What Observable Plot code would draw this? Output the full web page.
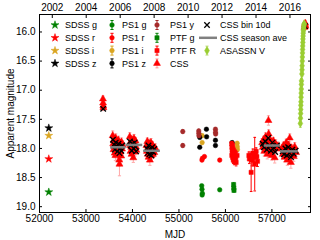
<!DOCTYPE html>
<html><head><meta charset="utf-8">
<script src="https://cdn.jsdelivr.net/npm/d3@7"></script>
<script src="https://cdn.jsdelivr.net/npm/@observablehq/plot@0.6"></script>
<style>
body{margin:0;background:#fff;}
#wrap{position:relative;width:320px;height:240px;}
#wrap svg{position:absolute;left:0;top:0;}
</style></head><body><div id="wrap"></div>
<script>
// ---------- tick labels ----------
const mjdTicks = [52000, 53000, 54000, 55000, 56000, 57000];
const yearTickMJD = [52275, 53005, 53736, 54466, 55197, 55927, 56658, 57388];
const yearLabels = ["2002", "2004", "2006", "2008", "2010", "2012", "2014", "2016"];
const magTicks = [16.0, 16.5, 17.0, 17.5, 18.0, 18.5, 19.0];

// ---------- SDSS (single epoch) ----------
const sdssBands = ["g", "r", "i", "z"];
const sdssMJD = [52200, 52200, 52200, 52200];
const sdssMag = [18.75, 18.18, 17.78, 17.65];

// ---------- PS1 [mjd, mag, err] ----------
const ps1g = [[55490, 18.64, 0.02], [55496, 18.70, 0.02], [55503, 18.77, 0.02], [55499, 18.80, 0.02], [55877, 18.71, 0.02]];
const ps1r = [[55495, 18.20, 0.02], [55505, 18.17, 0.02], [55548, 18.14, 0.02], [55877, 18.20, 0.02]];
const ps1i = [[55499, 17.78, 0.02], [55499, 17.90, 0.02], [56252, 17.91, 0.02], [56255, 17.97, 0.02], [56258, 18.02, 0.02]];
const ps1z = [[55447, 17.81, 0.02], [55447, 17.98, 0.02], [55591, 17.67, 0.02], [55595, 17.80, 0.02], [55785, 17.86, 0.02], [55785, 17.95, 0.02], [56144, 17.90, 0.02]];
const ps1y = [[55082, 17.71, 0.03], [55082, 17.95, 0.03], [55426, 17.70, 0.03], [55428, 17.74, 0.03], [55430, 17.78, 0.03], [55785, 17.67, 0.03], [55787, 17.72, 0.03], [55789, 17.75, 0.03]];

// ---------- PTF [mjd, mag, err] ----------
const ptfg = [[56176, 18.62, 0.03], [56180, 18.68, 0.03], [56184, 18.72, 0.03]];
const ptfR = [[56135, 17.92, 0.04], [56140, 17.98, 0.04], [56145, 18.03, 0.05], [56150, 18.08, 0.05], [56138, 18.12, 0.05],
  [56155, 17.95, 0.04], [56160, 18.16, 0.05], [56165, 18.02, 0.05], [56170, 18.20, 0.06], [56175, 18.10, 0.05],
  [56190, 18.22, 0.06], [56200, 18.06, 0.05], [56215, 18.18, 0.06], [56230, 18.24, 0.06], [56250, 18.12, 0.06],
  [56505, 18.12, 0.06], [56515, 18.18, 0.08], [56553, 18.41, 0.33], [56570, 18.20, 0.10], [56590, 18.08, 0.07],
  [56610, 18.15, 0.08], [56630, 18.27, 0.46], [56645, 18.10, 0.07], [56660, 18.05, 0.06], [56675, 18.14, 0.08], [56690, 18.22, 0.09]];

// ---------- CSS [mjd, mag, err] ----------
const css = [
  [53365, 17.15, 0.05], [53368, 17.22, 0.05], [53372, 17.27, 0.06], [53375, 17.30, 0.05],
  [53575, 17.78, 0.08], [53585, 17.92, 0.07], [53592, 18.02, 0.08], [53600, 17.85, 0.07], [53610, 17.97, 0.06],
  [53618, 18.08, 0.08], [53625, 17.90, 0.07], [53633, 18.12, 0.09], [53640, 17.82, 0.07], [53648, 17.99, 0.06],
  [53655, 18.05, 0.07], [53662, 17.88, 0.06], [53670, 17.95, 0.06], [53678, 18.10, 0.08], [53685, 17.93, 0.07],
  [53692, 18.00, 0.06], [53700, 17.86, 0.07], [53708, 18.04, 0.07], [53715, 18.20, 0.10], [53720, 18.27, 0.20],
  [53728, 17.98, 0.07], [53735, 17.91, 0.06], [53742, 18.06, 0.07], [53750, 17.96, 0.06], [53758, 18.13, 0.08],
  [53765, 17.89, 0.07], [53775, 18.01, 0.06], [53790, 17.94, 0.07],
  [53942, 17.80, 0.07], [53950, 17.95, 0.06], [53958, 18.05, 0.07], [53965, 17.88, 0.06], [53972, 17.98, 0.06],
  [53980, 18.10, 0.08], [53988, 17.85, 0.06], [53995, 17.93, 0.06], [54003, 18.02, 0.07], [54010, 17.90, 0.06],
  [54018, 18.16, 0.08], [54025, 17.96, 0.06], [54033, 17.83, 0.07], [54040, 18.00, 0.06], [54048, 17.92, 0.07],
  [54055, 18.06, 0.07], [54065, 17.87, 0.06], [54075, 17.97, 0.06], [54085, 18.03, 0.07],
  [54300, 17.95, 0.07], [54310, 18.05, 0.07], [54320, 17.88, 0.06], [54330, 18.10, 0.08], [54338, 17.98, 0.06],
  [54345, 18.15, 0.08], [54352, 18.02, 0.06], [54360, 17.92, 0.07], [54368, 18.08, 0.07], [54375, 18.20, 0.09],
  [54383, 17.97, 0.06], [54390, 18.04, 0.06], [54398, 17.90, 0.07], [54405, 18.12, 0.08], [54413, 18.00, 0.06],
  [54420, 18.06, 0.07], [54430, 17.94, 0.06], [54440, 18.10, 0.07], [54455, 18.01, 0.06], [54470, 18.07, 0.07], [54490, 17.99, 0.07],
  [56790, 17.90, 0.07], [56805, 17.98, 0.07], [56820, 17.85, 0.06], [56835, 18.05, 0.08], [56850, 17.93, 0.06],
  [56862, 17.80, 0.07], [56875, 18.00, 0.06], [56888, 17.88, 0.06], [56900, 18.10, 0.08], [56912, 17.95, 0.06],
  [56925, 17.52, 0.08], [56930, 17.75, 0.07], [56938, 18.02, 0.06], [56945, 17.91, 0.06], [56955, 17.84, 0.07],
  [56965, 18.06, 0.07], [56975, 17.97, 0.06], [56985, 17.89, 0.06], [56995, 18.12, 0.08], [57005, 17.94, 0.06],
  [57018, 18.03, 0.07], [57030, 17.87, 0.06], [57045, 17.99, 0.06], [57060, 18.16, 0.09], [57080, 17.92, 0.07],
  [57100, 18.01, 0.07], [57130, 17.96, 0.07],
  [57220, 18.00, 0.07], [57235, 18.10, 0.08], [57248, 17.95, 0.06], [57260, 18.05, 0.07], [57272, 18.15, 0.08],
  [57285, 17.98, 0.06], [57296, 18.08, 0.07], [57308, 17.90, 0.06], [57320, 18.02, 0.06], [57332, 18.20, 0.09],
  [57345, 18.06, 0.07], [57358, 17.94, 0.06], [57370, 18.12, 0.08], [57383, 17.82, 0.07], [57395, 18.04, 0.06],
  [57408, 18.24, 0.10], [57420, 17.99, 0.06], [57435, 18.09, 0.07], [57450, 18.03, 0.06], [57470, 18.14, 0.08],
  [57490, 17.97, 0.07], [57520, 18.07, 0.07],
  [57700, 15.92, 0.05], [57710, 15.88, 0.05], [57718, 15.85, 0.05], [57722, 15.90, 0.05]
];
// CSS bin 10d [mjd, mag]
const cssBin = [
  [53370, 17.32],
  [53580, 17.85], [53600, 17.93], [53620, 18.02], [53640, 17.90], [53660, 17.96], [53680, 18.05], [53700, 17.92],
  [53720, 18.08], [53740, 17.99], [53760, 18.04], [53780, 17.95],
  [53945, 17.88], [53965, 17.95], [53985, 18.04], [54005, 17.92], [54025, 18.00], [54045, 17.90], [54065, 17.97], [54080, 18.05],
  [54305, 18.00], [54325, 18.08], [54345, 17.95], [54365, 18.10], [54385, 18.02], [54405, 18.12], [54425, 17.98], [54445, 18.06], [54470, 18.01],
  [56800, 17.92], [56830, 17.98], [56860, 17.88], [56890, 18.02], [56920, 17.82], [56950, 17.95], [56980, 18.04],
  [57010, 17.90], [57040, 17.99], [57070, 18.06], [57110, 17.95],
  [57230, 18.05], [57260, 18.10], [57290, 18.00], [57320, 18.12], [57350, 17.98], [57380, 18.08], [57410, 18.15],
  [57440, 18.02], [57470, 18.09], [57510, 18.04],
  [57712, 15.90]
];
// CSS season averages [start, end, mag]
const cssSeason = [[53520, 53850, 17.98], [53850, 54210, 17.94], [54230, 54590, 18.04], [56825, 57170, 17.95], [57170, 57555, 18.05]];

// ---------- ASASSN V [mjd, mag, err] ----------
const asassn = [
  [57612, 17.57, 0.07], [57615, 17.48, 0.06], [57618, 17.40, 0.06], [57620, 17.33, 0.05], [57622, 17.26, 0.05],
  [57625, 17.20, 0.05], [57627, 17.12, 0.05], [57630, 17.05, 0.05], [57632, 16.98, 0.04], [57634, 16.90, 0.04],
  [57636, 16.84, 0.04], [57645, 16.72, 0.04], [57648, 16.65, 0.04], [57650, 16.58, 0.04], [57653, 16.50, 0.03],
  [57655, 16.43, 0.03], [57658, 16.36, 0.03], [57660, 16.30, 0.03], [57663, 16.24, 0.03], [57666, 16.18, 0.03],
  [57668, 16.12, 0.03], [57671, 16.07, 0.03], [57674, 16.02, 0.03], [57677, 15.98, 0.03], [57680, 15.95, 0.03],
  [57684, 15.92, 0.03], [57688, 15.89, 0.03], [57692, 15.87, 0.03], [57696, 15.86, 0.03]
];

// ---------- colours ----------
const C = {g: "#008000", r: "#ff0000", i: "#daa520", z: "#000000", y: "#a52a2a", asassn: "#9acd32", ave: "#808080"};

// ---------- helpers ----------
const rows = arr => arr.map(([mjd, mag, err]) => ({mjd, mag, err: err ?? 0}));
const capSym = {draw(ctx, size) { const w = Math.sqrt(size) / 2; ctx.moveTo(-w, 0); ctx.lineTo(w, 0); }};
function errBars(data, color, opacity, capR = 1.7) {
  const caps = data.flatMap(d => [{mjd: d.mjd, mag: d.mag - d.err}, {mjd: d.mjd, mag: d.mag + d.err}]);
  return [
    Plot.ruleX(data, {x: "mjd", y1: d => d.mag - d.err, y2: d => d.mag + d.err, stroke: color, strokeOpacity: opacity, strokeWidth: 1}),
    Plot.dot(caps, {x: "mjd", y: "mag", symbol: capSym, r: capR, fill: "none", stroke: color, strokeOpacity: opacity, strokeWidth: 1})
  ];
}
function pts(data, color, symbol, r, extra = {}) {
  return Plot.dot(data, {x: "mjd", y: "mag", symbol, r, fill: color, stroke: color, strokeWidth: 0.5, ...extra});
}

const sdss = sdssBands.map((b, i) => ({band: b, mjd: sdssMJD[i], mag: sdssMag[i]}));
const P = {g: rows(ps1g), r: rows(ps1r), i: rows(ps1i), z: rows(ps1z), y: rows(ps1y)};
const PTFg = rows(ptfg), PTFR = rows(ptfR), CSS = rows(css), BIN = rows(cssBin), AS = rows(asassn);
const SEAS = cssSeason.map(([a, b, m]) => ({a, b, m}));
const yearOf = new Map(yearTickMJD.map((t, i) => [t, yearLabels[i]]));

const chart = Plot.plot({
  width: 320, height: 240,
  marginLeft: 39, marginRight: 10, marginTop: 14, marginBottom: 28,
  style: {fontFamily: "'Liberation Sans', Arial, sans-serif", fontSize: "10px", background: "#fff", color: "#000"},
  x: {domain: [52000, 57830]},
  y: {domain: [15.7, 19.1], reverse: true},
  marks: [
    // SDSS stars
    Plot.dot(sdss, {x: "mjd", y: "mag", symbol: "star", r: 2.5, fill: d => C[d.band], stroke: d => C[d.band], strokeWidth: 0.5}),
    // PS1
    ...["g", "r", "i", "z", "y"].flatMap(b => [...errBars(P[b], C[b], 1, 1.3), pts(P[b], C[b], "circle", 2.3)]),
    // PTF
    ...errBars(PTFg, C.g, 1, 1.3), pts(PTFg, C.g, "square", 2.4),
    ...errBars(PTFR, C.r, 1, 1.5), pts(PTFR, C.r, "square", 2.4),
    // CSS
    ...errBars(CSS, C.r, 0.35, 1.8), pts(CSS, C.r, "triangle", 2.6),
    Plot.dot(BIN, {x: "mjd", y: "mag", symbol: "times", r: 2.6, stroke: "#000", strokeWidth: 1.3}),
    Plot.link(SEAS, {x1: "a", x2: "b", y1: "m", y2: "m", stroke: C.ave, strokeWidth: 2.5}),
    // ASASSN
    ...errBars(AS, C.asassn, 0.6, 1.6), pts(AS, C.asassn, "diamond", 2.5),
    // frame & axes
    Plot.frame({stroke: "#000", strokeWidth: 1}),
    Plot.axisX(mjdTicks, {anchor: "bottom", tickSize: -3, tickPadding: 5, tickFormat: d => String(d),
      label: "MJD", labelAnchor: "center", labelOffset: 25, labelArrow: "none", fontSize: 10}),
    Plot.axisX(yearTickMJD, {anchor: "top", tickSize: -3, tickPadding: 7, tickFormat: d => yearOf.get(d), label: null, fontSize: 10}),
    Plot.axisY(magTicks, {anchor: "left", tickSize: -3, tickPadding: 7, tickFormat: d => d.toFixed(1),
      label: "Apparent magnitude", labelAnchor: "center", labelOffset: 33, labelArrow: "none", fontSize: 10}),
    Plot.axisY(magTicks, {anchor: "right", tickSize: -3, tickFormat: () => "", label: null})
  ]
});
document.getElementById("wrap").appendChild(chart);

// ---------- legend overlay ----------
const legendItems = [
  {label: "SDSS g", col: 0, row: 0, sym: "star", color: C.g},
  {label: "SDSS r", col: 0, row: 1, sym: "star", color: C.r},
  {label: "SDSS i", col: 0, row: 2, sym: "star", color: C.i},
  {label: "SDSS z", col: 0, row: 3, sym: "star", color: C.z},
  {label: "PS1 g", col: 1, row: 0, sym: "circle", color: C.g, bar: 1},
  {label: "PS1 r", col: 1, row: 1, sym: "circle", color: C.r, bar: 1},
  {label: "PS1 i", col: 1, row: 2, sym: "circle", color: C.i, bar: 1},
  {label: "PS1 z", col: 1, row: 3, sym: "circle", color: C.z, bar: 1},
  {label: "PS1 y", col: 2, row: 0, sym: "circle", color: C.y, bar: 1},
  {label: "PTF g", col: 2, row: 1, sym: "square", color: C.g, bar: 1},
  {label: "PTF R", col: 2, row: 2, sym: "square", color: C.r, bar: 1},
  {label: "CSS", col: 2, row: 3, sym: "triangle", color: C.r, bar: 0.35},
  {label: "CSS bin 10d", col: 3, row: 0, sym: "times", color: "#000"},
  {label: "CSS season ave", col: 3, row: 1, sym: "line", color: C.ave},
  {label: "ASASSN V", col: 3, row: 2, sym: "diamond", color: C.asassn, bar: 0.6}
];
const colMarkX = [55, 112, 157, 207];
const colTextX = [65, 122, 170, 220];
const rowY = [25, 37.8, 50.6, 63.4];
const symMap = {star: [d3.symbolStar, 20], circle: [d3.symbolCircle, 17], square: [d3.symbolSquare, 18], triangle: [d3.symbolTriangle, 21], diamond: [d3.symbolDiamond, 20]};
const leg = d3.create("svg").attr("width", 320).attr("height", 240)
  .style("font-family", "'Liberation Sans', Arial, sans-serif").style("font-size", "9px");
for (const it of legendItems) {
  const mx = colMarkX[it.col], y = rowY[it.row];
  const g = leg.append("g").attr("transform", `translate(${mx},${y})`);
  if (it.bar) {
    g.append("line").attr("x1", 0).attr("x2", 0).attr("y1", -4.5).attr("y2", 4.5).attr("stroke", it.color).attr("stroke-opacity", it.bar);
    for (const cy of [-4.5, 4.5]) g.append("line").attr("x1", -1.6).attr("x2", 1.6).attr("y1", cy).attr("y2", cy).attr("stroke", it.color).attr("stroke-opacity", it.bar);
  }
  if (it.sym === "line") {
    g.append("line").attr("x1", -8).attr("x2", 10).attr("y1", 0).attr("y2", 0).attr("stroke", it.color).attr("stroke-width", 2.5);
  } else if (it.sym === "times") {
    g.append("path").attr("d", d3.symbol(d3.symbolTimes, 21)()).attr("fill", "none").attr("stroke", it.color).attr("stroke-width", 1.3);
  } else {
    const [t, s] = symMap[it.sym];
    g.append("path").attr("d", d3.symbol(t, s)()).attr("fill", it.color).attr("stroke", it.color).attr("stroke-width", 0.5);
  }
  leg.append("text").attr("x", colTextX[it.col]).attr("y", y).attr("dy", "0.35em").attr("fill", "#000").text(it.label);
}
document.getElementById("wrap").appendChild(leg.node());
</script></body></html>
